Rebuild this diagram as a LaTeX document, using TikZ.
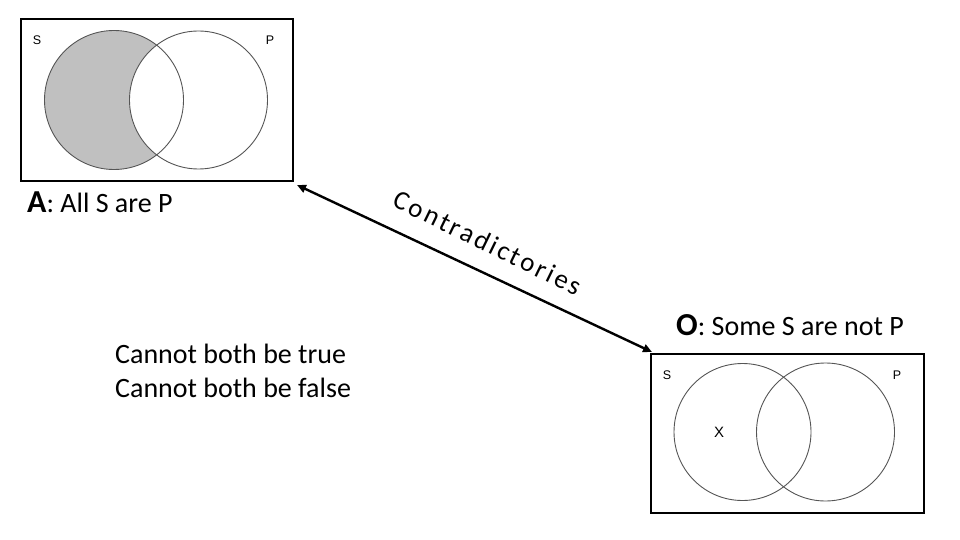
\documentclass[tikz,border=0pt]{standalone}
\usepackage{fontspec}
\setmainfont{Carlito}
\newfontfamily\arialf{Liberation Sans}
\usetikzlibrary{arrows.meta}
\definecolor{venn}{RGB}{85,85,85}
\definecolor{venngray}{RGB}{192,192,192}
\tikzset{
  frame/.style={draw=black,line width=1.1pt},
  venncirc/.style={draw=venn,line width=0.9pt},
  vlabel/.style={font=\arialf\fontsize{12.5}{14}\selectfont,inner sep=0pt},
  txt/.style={font=\fontsize{28}{32}\selectfont,inner sep=0pt,anchor=base west},
  arr/.style={line width=2.4pt,{Triangle[length=9pt,width=8pt]}-{Triangle[length=9pt,width=8pt]}}
}
\begin{document}
\begin{tikzpicture}[x=1pt,y=-1pt]
\useasboundingbox (0,0) rectangle (960,540);
% A box
\draw[frame] (21,19) rectangle (293,181);
\fill[venngray] (114,100) circle (69.5);
\fill[white] (198.5,100) circle (69);
\draw[venncirc] (114,100) circle (69.5);
\draw[venncirc] (198.5,100) circle (69);
\node[vlabel] (s1) at (37,40) {S};
\node[vlabel] (p1) at (270,40) {P};
% O box
\draw[frame] (651,354) rectangle (924,513);
\draw[venncirc] (742.5,432) circle (68.5);
\draw[venncirc] (825.5,432) circle (69);
\node[vlabel] (s2) at (667,375) {S};
\node[vlabel] (p2) at (897,375) {P};
\node[vlabel,font=\arialf\fontsize{15}{17}\selectfont] (x) at (719,432) {X};
% labels
\node[txt] (A) at (27,212) {\fontsize{32}{34}\selectfont\bfseries A\fontsize{28}{32}\selectfont\mdseries: All S are P};
\node[txt] (O) at (676,335) {\fontsize{32}{34}\selectfont\bfseries O\fontsize{28}{32}\selectfont\mdseries: Some S are not P};
\node[txt] (t1) at (115,363) {Cannot both be true};
\node[txt] (t2) at (115,397) {Cannot both be false};
% arrow
\coordinate (a1) at (297,185);
\coordinate (a2) at (652,352);
\draw[arr] (a1) -- (a2);
\node[inner sep=0pt,rotate=-26,font=\fontsize{27}{30}\selectfont\addfontfeature{LetterSpace=10},anchor=base] (c) at (484,251) {Contradictories};
\end{tikzpicture}
\end{document}
